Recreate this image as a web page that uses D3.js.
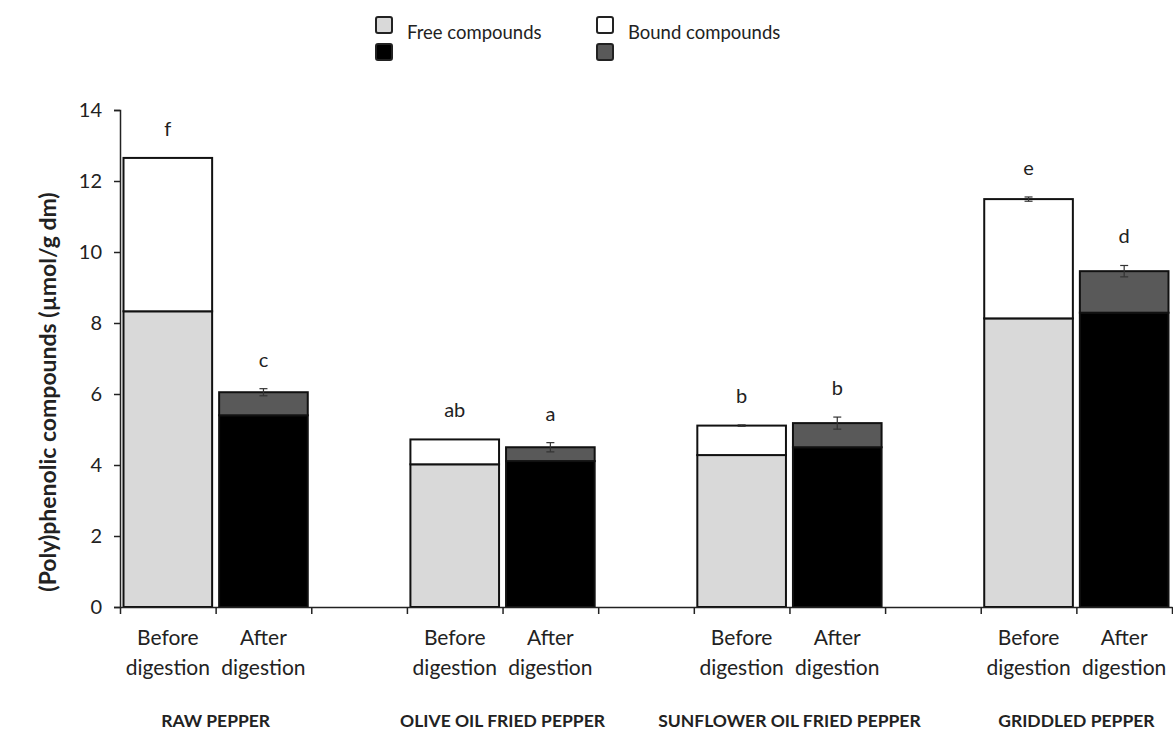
<!DOCTYPE html>
<html>
<head>
<meta charset="utf-8">
<script src="https://cdn.jsdelivr.net/npm/d3@7"></script>
<style>
  body { margin: 0; background: #fff; }
  text { font-family: Lato, "Open Sans", sans-serif; fill: #222; }
</style>
</head>
<body>
<script>
const groups = ["RAW PEPPER", "OLIVE OIL FRIED PEPPER", "SUNFLOWER OIL FRIED PEPPER", "GRIDDLED PEPPER"];
const stages = ["Before digestion", "After digestion"];

// µmol/g dm
const freeBefore = [8.33, 4.02, 4.28, 8.13];
const boundBefore = [4.32, 0.70, 0.83, 3.36];
const freeAfter = [5.40, 4.11, 4.50, 8.29];
const boundAfter = [0.65, 0.39, 0.68, 1.17];
const errBefore = [0, 0, 0.02, 0.06];
const errAfter = [0.10, 0.13, 0.17, 0.16];
const lettersBefore = ["f", "ab", "b", "e"];
const lettersAfter = ["c", "a", "b", "d"];
const yTicks = [0, 2, 4, 6, 8, 10, 12, 14];

const width = 1173, height = 733;
const marginLeft = 120, marginTop = 110, plotRight = 1172, plotBottom = 607;

const svg = d3.select("body").append("svg")
  .attr("width", width)
  .attr("height", height);

svg.append("rect").attr("width", "100%").attr("height", "100%").attr("fill", "white");

const y = d3.scaleLinear().domain([0, 14]).range([plotBottom, marginTop]);
// 11 slots: before, after, gap for each group (no gap after the last)
const x = d3.scaleLinear().domain([0, 11]).range([marginLeft, plotRight]);
const slotW = x(1) - x(0);
const pad = 3.5;

// build bar records
const bars = [];
groups.forEach((g, i) => {
  bars.push({ slot: i * 3, free: freeBefore[i], bound: boundBefore[i], err: errBefore[i], letter: lettersBefore[i],
              freeFill: "#d9d9d9", boundFill: "#ffffff" });
  bars.push({ slot: i * 3 + 1, free: freeAfter[i], bound: boundAfter[i], err: errAfter[i], letter: lettersAfter[i],
              freeFill: "#000000", boundFill: "#595959" });
});

// y axis
const yAxis = svg.append("g")
  .attr("transform", "translate(" + marginLeft + ",0)")
  .call(d3.axisLeft(y).tickValues(yTicks).tickSize(6).tickPadding(12));
yAxis.select(".domain").attr("stroke", "#222").attr("stroke-width", 1.5);
yAxis.selectAll(".tick line").attr("stroke", "#222").attr("stroke-width", 1.5);
yAxis.selectAll(".tick text").style("font-size", "20px").style("font-family", "Lato, sans-serif").attr("fill", "#222");

// bars
const bg = svg.append("g");
bars.forEach(d => {
  const x0 = x(d.slot) + pad;
  const w = slotW - 2 * pad;
  bg.append("rect")
    .attr("x", x0).attr("y", y(d.free))
    .attr("width", w).attr("height", y(0) - y(d.free))
    .attr("fill", d.freeFill).attr("stroke", "#111").attr("stroke-width", 2);
  bg.append("rect")
    .attr("x", x0).attr("y", y(d.free + d.bound))
    .attr("width", w).attr("height", y(d.free) - y(d.free + d.bound))
    .attr("fill", d.boundFill).attr("stroke", "#111").attr("stroke-width", 2);

  const cx = x(d.slot + 0.5);
  const top = d.free + d.bound;
  if (d.err > 0) {
    const eb = bg.append("g").attr("stroke", "#333").attr("stroke-width", 1.2);
    eb.append("line").attr("x1", cx).attr("x2", cx).attr("y1", y(top - d.err)).attr("y2", y(top + d.err));
    eb.append("line").attr("x1", cx - 4).attr("x2", cx + 4).attr("y1", y(top - d.err)).attr("y2", y(top - d.err));
    eb.append("line").attr("x1", cx - 4).attr("x2", cx + 4).attr("y1", y(top + d.err)).attr("y2", y(top + d.err));
  }
  svg.append("text")
    .attr("x", cx).attr("y", y(top + d.err) - 22)
    .attr("text-anchor", "middle")
    .style("font-size", "20px")
    .text(d.letter);
});

// x axis with ticks on slot boundaries
const xAxis = svg.append("g")
  .attr("transform", "translate(0," + plotBottom + ")")
  .call(d3.axisBottom(x).tickValues(d3.range(12)).tickFormat("").tickSize(7).tickSizeOuter(0));
xAxis.select(".domain").attr("stroke", "#222").attr("stroke-width", 1.5);
xAxis.selectAll(".tick line").attr("stroke", "#222").attr("stroke-width", 1.5);

// stage labels
bars.forEach((d, k) => {
  const words = stages[k % 2].split(" ");
  const t = svg.append("text")
    .attr("x", x(d.slot + 0.5)).attr("y", 645)
    .attr("text-anchor", "middle")
    .style("font-size", "21px");
  words.forEach((w, j) => {
    t.append("tspan").attr("x", x(d.slot + 0.5)).attr("dy", j === 0 ? 0 : 30).text(w);
  });
});

// group labels
groups.forEach((g, i) => {
  svg.append("text")
    .attr("x", x(i * 3 + 1)).attr("y", 727)
    .attr("text-anchor", "middle")
    .style("font-size", "17.5px").style("font-weight", "bold")
    .text(g);
});

// y title
svg.append("text")
  .attr("transform", "translate(56,392) rotate(-90)")
  .attr("text-anchor", "middle")
  .style("font-size", "23px").style("font-weight", "bold")
  .text("(Poly)phenolic compounds (µmol/g dm)");

// legend
const legend = [
  { x: 376, fills: ["#d9d9d9", "#000000"], label: "Free compounds" },
  { x: 597, fills: ["#ffffff", "#595959"], label: "Bound compounds" }
];
legend.forEach(l => {
  l.fills.forEach((f, j) => {
    svg.append("rect")
      .attr("x", l.x).attr("y", 17 + j * 27)
      .attr("width", 16).attr("height", 16).attr("rx", 2)
      .attr("fill", f).attr("stroke", "#222").attr("stroke-width", 2);
  });
  svg.append("text")
    .attr("x", l.x + 31).attr("y", 39)
    .style("font-size", "18.5px")
    .text(l.label);
});
</script>
</body>
</html>
